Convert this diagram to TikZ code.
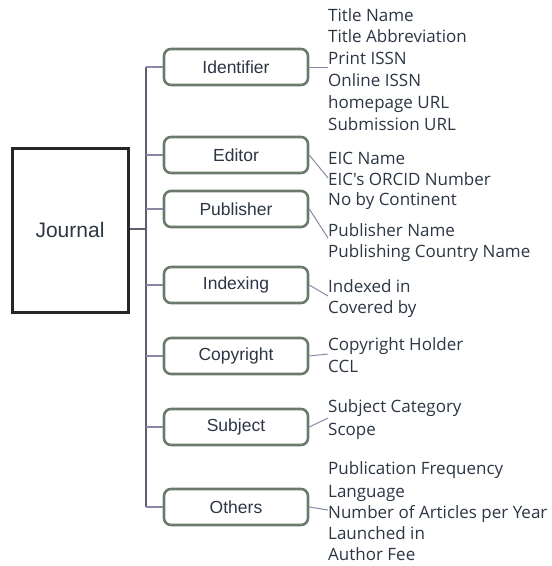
\documentclass[tikz,border=0pt]{standalone}
\usepackage{fontspec}
\setmainfont{Liberation Sans}
\newfontfamily\itemfont{Open Sans}
\definecolor{boxline}{HTML}{6B7A6B}
\definecolor{inkdark}{HTML}{2C3644}
\definecolor{wire}{HTML}{8A88A8}
\definecolor{trunk}{HTML}{5E5E6E}
\begin{document}
\begin{tikzpicture}[x=1pt,y=-1pt,
  rootbox/.style={draw=black!85,line width=3pt,minimum width=116pt,minimum height=164pt,
    inner sep=0pt,text=inkdark,font=\fontsize{21}{24}\selectfont},
  catbox/.style={draw=boxline,line width=2.6pt,rounded corners=7pt,minimum width=144pt,
    minimum height=36pt,inner sep=0pt,text=inkdark,font=\fontsize{17.5}{20}\selectfont},
  item/.style={anchor=base west,inner sep=0pt,text=inkdark,font=\itemfont\fontsize{17}{20}\selectfont},
  branch/.style={draw=wire,line width=1.3pt},
  leaf/.style={draw=wire,line width=1pt},
  stem/.style={draw=trunk,line width=1.6pt}]
\useasboundingbox (0,0) rectangle (552,566);
\fill[white] (0,0) rectangle (552,566);

% root and categories
\node[rootbox] (journal) at (70,230) {Journal};
\node[catbox] (ident) at (236,67) {Identifier};
\node[catbox] (editor) at (236,155) {Editor};
\node[catbox] (pub) at (236,209) {Publisher};
\node[catbox] (index) at (236,285) {Indexing};
\node[catbox] (copy) at (236,356) {Copyright};
\node[catbox] (subj) at (236,427) {Subject};
\node[catbox] (other) at (236,507) {Others};

% tree lines
\coordinate (fork) at (146,229);
\coordinate (top) at (146,67);
\coordinate (bottom) at (146,507);
\draw[stem] (journal.east |- fork) -- (fork);
\draw[stem] (top) -- (bottom);
\foreach \n in {ident,editor,pub,index,copy,subj,other}
  \draw[branch] (top |- \n.west) -- (\n.west);

% attribute lists (baselines)
\node[item] (t1) at (328,21) {Title Name};
\node[item] (t2) at (328,42) {Title Abbreviation};
\node[item] (t3) at (328,64) {Print ISSN};
\node[item] (t4) at (328,86) {Online ISSN};
\node[item] (t5) at (328,108) {homepage URL};
\node[item] (t6) at (328,130) {Submission URL};
\node[item] (e1) at (328,164) {EIC Name};
\node[item] (e2) at (328,185) {EIC's ORCID Number};
\node[item] (e3) at (328,205) {No by Continent};
\node[item] (p1) at (328,236) {Publisher Name};
\node[item] (p2) at (328,257) {Publishing Country Name};
\node[item] (i1) at (328,292) {Indexed in};
\node[item] (i2) at (328,313) {Covered by};
\node[item] (c1) at (328,350) {Copyright Holder};
\node[item] (c2) at (328,372) {CCL};
\node[item] (s1) at (328,412) {Subject Category};
\node[item] (s2) at (328,435) {Scope};
\node[item] (o1) at (328,474) {Publication Frequency};
\node[item] (o2) at (328,497) {Language};
\node[item] (o3) at (328,518) {Number of Articles per Year};
\node[item] (o4) at (328,539) {Launched in};
\node[item] (o5) at (328,560) {Author Fee};

% leaders from categories to their lists
\coordinate (li) at (328,67);
\coordinate (le) at (328,178);
\coordinate (lp) at (328,238);
\coordinate (lx) at (328,296);
\coordinate (lc) at (328,354);
\coordinate (ls) at (328,418);
\coordinate (lo) at (328,510);
\draw[leaf] (ident.east) -- (li);
\draw[leaf] (editor.east) -- (le);
\draw[leaf] (pub.east) -- (lp);
\draw[leaf] (index.east) -- (lx);
\draw[leaf] (copy.east) -- (lc);
\draw[leaf] (subj.east) -- (ls);
\draw[leaf] (other.east) -- (lo);
\end{tikzpicture}
\end{document}
